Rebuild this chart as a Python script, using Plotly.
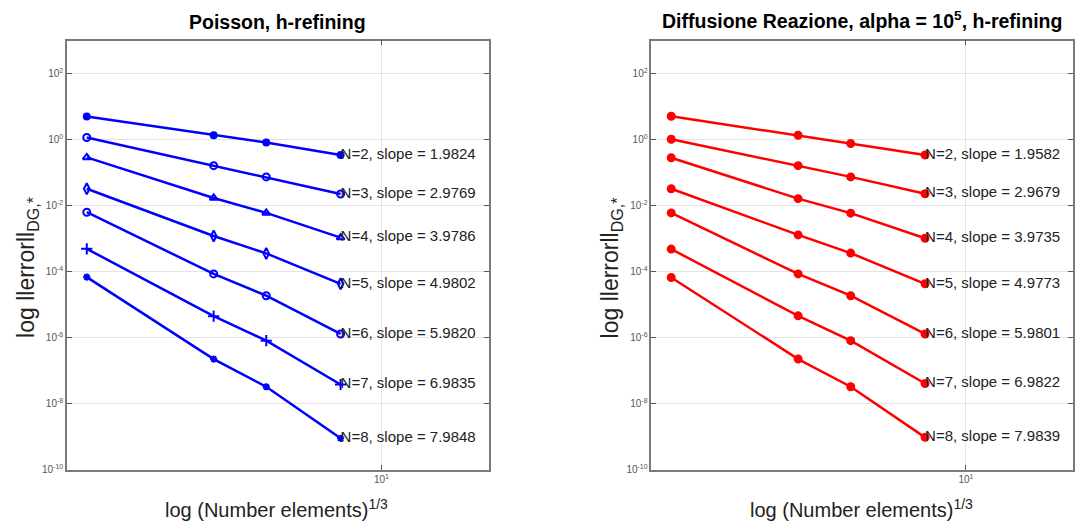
import plotly.graph_objects as go

# ---------------- data ----------------
x_vals = [2, 4, 5.33, 8]   # (Number elements)^(1/3)
orders = [2, 3, 4, 5, 6, 7, 8]

poisson_err = {
    2: [5.0, 1.35, 0.81, 0.34],
    3: [1.15, 0.162, 0.074, 0.0224],
    4: [0.288, 0.017, 0.006, 0.00107],
    5: [0.0324, 0.0012, 3.55e-4, 4.27e-5],
    6: [6.3e-3, 8.5e-5, 1.86e-5, 1.29e-6],
    7: [4.9e-4, 4.47e-6, 8.1e-7, 3.8e-8],
    8: [6.8e-5, 2.24e-7, 3.24e-8, 8.9e-10],
}
poisson_slopes = ["1.9824", "2.9769", "3.9786", "4.9802", "5.9820", "6.9835", "7.9848"]

diffreac_err = {
    2: [5.1, 1.35, 0.76, 0.34],
    3: [1.02, 0.162, 0.074, 0.0229],
    4: [0.282, 0.0162, 5.9e-3, 1.02e-3],
    5: [0.0324, 1.29e-3, 3.63e-4, 4.27e-5],
    6: [6.0e-3, 8.5e-5, 1.86e-5, 1.29e-6],
    7: [4.8e-4, 4.57e-6, 8.1e-7, 4.07e-8],
    8: [6.6e-5, 2.24e-7, 3.24e-8, 9.5e-10],
}
diffreac_slopes = ["1.9582", "2.9679", "3.9735", "4.9773", "5.9801", "6.9822", "7.9839"]

y_tick_vals = [1e-10, 1e-8, 1e-6, 1e-4, 1e-2, 1e0, 1e2]
y_tick_text = ["10<sup>-10</sup>", "10<sup>-8</sup>", "10<sup>-6</sup>", "10<sup>-4</sup>",
               "10<sup>-2</sup>", "10<sup>0</sup>", "10<sup>2</sup>"]
x_tick_vals = [10]
x_tick_text = ["10<sup>1</sup>"]

# ---------------- style ----------------
FONT = "Liberation Sans Narrow, Liberation Sans, Arial, sans-serif"
poisson_symbols = {2: "circle", 3: "circle-open", 4: "triangle-up-open", 5: "diamond-tall-open",
                   6: "circle-open", 7: "cross-thin-open", 8: "asterisk-open"}
poisson_sizes = {2: 6, 3: 7, 4: 7, 5: 8, 6: 7, 7: 8, 8: 6}

fig = go.Figure()


def add_series(xa, ya, ys, color, symbol, size, label):
    fig.add_trace(go.Scatter(
        x=x_vals, y=ys, xaxis=xa, yaxis=ya, mode="lines+markers",
        line=dict(color=color, width=2.5),
        marker=dict(symbol=symbol, size=size, color=color, line=dict(color=color, width=2)),
        showlegend=False, hoverinfo="skip",
    ))
    fig.add_trace(go.Scatter(
        x=[x_vals[-1]], y=[ys[-1]], xaxis=xa, yaxis=ya, mode="text",
        text=[label], textposition="middle right",
        textfont=dict(family=FONT, size=15, color="#222222"),
        showlegend=False, cliponaxis=False,
    ))


for i, n in enumerate(orders):
    add_series("x", "y", poisson_err[n], "#0000FF", poisson_symbols[n], poisson_sizes[n],
               f"N={n}, slope = {poisson_slopes[i]}")
for i, n in enumerate(orders):
    add_series("x2", "y2", diffreac_err[n], "#FF0000", "circle", 7,
               f"N={n}, slope = {diffreac_slopes[i]}")

W, H = 1075, 531
left_dom = [67 / W, 489 / W]
right_dom = [652 / W, 1074 / W]
y_dom = [1 - 475 / H, 1 - 41 / H]

common = dict(showgrid=True, gridcolor="#e3e3e3", gridwidth=1,
              showline=True, linecolor="#7a7a7a", linewidth=1.5, mirror="allticks",
              ticks="inside", ticklen=5, tickcolor="#555555",
              tickfont=dict(family=FONT, size=10, color="#555555"), zeroline=False)
xax = dict(common, type="log", range=[0.254, 1.254], tickmode="array",
           tickvals=x_tick_vals, ticktext=x_tick_text)
yax = dict(common, type="log", range=[-10, 3], tickmode="array",
           tickvals=y_tick_vals, ticktext=y_tick_text)

fig.update_layout(
    width=W, height=H,
    margin=dict(l=0, r=0, t=0, b=0),
    paper_bgcolor="white", plot_bgcolor="white",
    xaxis=dict(xax, domain=left_dom, anchor="y"),
    yaxis=dict(yax, domain=y_dom, anchor="x"),
    xaxis2=dict(xax, domain=right_dom, anchor="y2"),
    yaxis2=dict(yax, domain=y_dom, anchor="x2"),
    font=dict(family=FONT),
)

ann = []
ann.append(dict(text="<b>Poisson, h-refining</b>", x=(left_dom[0] + left_dom[1]) / 2, y=1 - 22 / H,
                xref="paper", yref="paper", showarrow=False, xanchor="center", yanchor="middle",
                font=dict(family=FONT, size=19.5, color="black")))
ann.append(dict(text="<b>Diffusione Reazione, alpha = 10<sup>5</sup>, h-refining</b>",
                x=(right_dom[0] + right_dom[1]) / 2, y=1 - 20 / H,
                xref="paper", yref="paper", showarrow=False, xanchor="center", yanchor="middle",
                font=dict(family=FONT, size=19.5, color="black")))
for cx in [(left_dom[0] + left_dom[1]) / 2, (right_dom[0] + right_dom[1]) / 2]:
    ann.append(dict(text="log (Number elements)<sup>1/3</sup>", x=cx - 1 / W, y=1 - 514 / H,
                    xref="paper", yref="paper", showarrow=False, xanchor="center", yanchor="middle",
                    font=dict(family=FONT, size=20, color="#222222")))
for cx in [28 / W, 613 / W]:
    ann.append(dict(text="log llerrorll<sub>DG,*</sub>", x=cx, y=1 - 270 / H,
                    xref="paper", yref="paper", showarrow=False, xanchor="center", yanchor="middle",
                    textangle=-90, font=dict(family=FONT, size=23, color="#222222")))
fig.update_layout(annotations=ann)

fig.write_html("out.html")
